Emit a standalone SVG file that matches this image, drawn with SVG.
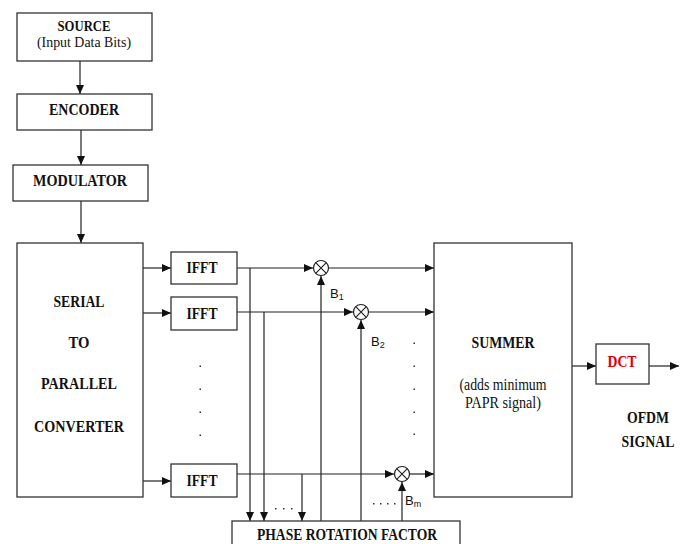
<svg xmlns="http://www.w3.org/2000/svg" width="689" height="544" viewBox="0 0 689 544">
<style>
.box{fill:#fff;stroke:#333;stroke-width:1.3}
.lbl{font-family:"Liberation Serif",serif;font-weight:bold;font-size:17px;fill:#111}
.reg{font-family:"Liberation Serif",serif;font-size:16px;fill:#111}
.sans{font-family:"Liberation Sans",Arial,sans-serif;font-size:13px;fill:#111}
.ln{stroke:#222;stroke-width:1.2;fill:none}
.dot{fill:#333}
</style>
<defs>
<marker id="ah" markerWidth="10" markerHeight="8" refX="9" refY="4" orient="auto" markerUnits="userSpaceOnUse">
<path d="M0,0 L9,4 L0,8 Z" fill="#111"/>
</marker>
</defs>
<rect width="689" height="544" fill="#fff"/>

<g id="connectors">
<line class="ln" x1="80" y1="61" x2="80" y2="94" marker-end="url(#ah)"/>
<line class="ln" x1="81" y1="130" x2="81" y2="165" marker-end="url(#ah)"/>
<line class="ln" x1="81" y1="201" x2="81" y2="243" marker-end="url(#ah)"/>
<line class="ln" x1="143" y1="268" x2="171" y2="268" marker-end="url(#ah)"/>
<line class="ln" x1="143" y1="313" x2="171" y2="313" marker-end="url(#ah)"/>
<line class="ln" x1="143" y1="481" x2="171" y2="481" marker-end="url(#ah)"/>
<line class="ln" x1="237" y1="268" x2="313" y2="268" marker-end="url(#ah)"/>
<line class="ln" x1="329" y1="268" x2="434" y2="268" marker-end="url(#ah)"/>
<line class="ln" x1="237" y1="312" x2="353" y2="312" marker-end="url(#ah)"/>
<line class="ln" x1="369" y1="312" x2="434" y2="312" marker-end="url(#ah)"/>
<line class="ln" x1="237" y1="474" x2="394" y2="474" marker-end="url(#ah)"/>
<line class="ln" x1="410" y1="474" x2="434" y2="474" marker-end="url(#ah)"/>
<line class="ln" x1="250" y1="268" x2="250" y2="521" marker-end="url(#ah)"/>
<line class="ln" x1="264" y1="312" x2="264" y2="521" marker-end="url(#ah)"/>
<line class="ln" x1="302" y1="474" x2="302" y2="521" marker-end="url(#ah)"/>
<line class="ln" x1="321" y1="521" x2="321" y2="276" marker-end="url(#ah)"/>
<line class="ln" x1="361" y1="521" x2="361" y2="320" marker-end="url(#ah)"/>
<line class="ln" x1="402" y1="521" x2="402" y2="482" marker-end="url(#ah)"/>
<line class="ln" x1="572" y1="366" x2="596" y2="366" marker-end="url(#ah)"/>
<line class="ln" x1="649" y1="366" x2="679" y2="366" marker-end="url(#ah)"/>
</g>

<g id="source"><rect class="box" x="17" y="13" width="135" height="48"/>
<text class="lbl" x="84" y="31" text-anchor="middle" style="font-size:15.5px" textLength="53" lengthAdjust="spacingAndGlyphs">SOURCE</text>
<text class="reg" x="84" y="47" text-anchor="middle" style="font-size:14px" textLength="94" lengthAdjust="spacingAndGlyphs">(Input Data Bits)</text></g>

<g id="encoder"><rect class="box" x="17" y="94" width="135" height="36"/>
<text class="lbl" x="84" y="115" text-anchor="middle" textLength="70" lengthAdjust="spacingAndGlyphs">ENCODER</text></g>

<g id="modulator"><rect class="box" x="13" y="165" width="135" height="36"/>
<text class="lbl" x="80" y="186" text-anchor="middle" textLength="94" lengthAdjust="spacingAndGlyphs">MODULATOR</text></g>

<g id="serial"><rect class="box" x="17" y="243" width="126" height="254"/>
<text class="lbl" x="79" y="307" text-anchor="middle" textLength="51" lengthAdjust="spacingAndGlyphs">SERIAL</text>
<text class="lbl" x="79" y="348" text-anchor="middle" textLength="21" lengthAdjust="spacingAndGlyphs">TO</text>
<text class="lbl" x="79" y="389" text-anchor="middle" textLength="76" lengthAdjust="spacingAndGlyphs">PARALLEL</text>
<text class="lbl" x="79" y="432" text-anchor="middle" textLength="90" lengthAdjust="spacingAndGlyphs">CONVERTER</text></g>

<g id="ifft1"><rect class="box" x="171" y="252" width="66" height="32"/>
<text class="lbl" x="202" y="273" text-anchor="middle" textLength="31" lengthAdjust="spacingAndGlyphs">IFFT</text></g>
<g id="ifft2"><rect class="box" x="171" y="297" width="66" height="33"/>
<text class="lbl" x="202" y="319" text-anchor="middle" textLength="31" lengthAdjust="spacingAndGlyphs">IFFT</text></g>
<g id="ifft3"><rect class="box" x="171" y="464" width="66" height="33"/>
<text class="lbl" x="202" y="486" text-anchor="middle" textLength="31" lengthAdjust="spacingAndGlyphs">IFFT</text></g>

<g id="dots-left">
<rect class="dot" x="199.5" y="365.5" width="1.5" height="1.5"/>
<rect class="dot" x="199.5" y="388.5" width="1.5" height="1.5"/>
<rect class="dot" x="199.5" y="411.5" width="1.5" height="1.5"/>
<rect class="dot" x="199.5" y="434.5" width="1.5" height="1.5"/>
</g>
<g id="dots-right">
<rect class="dot" x="413.5" y="342.5" width="1.5" height="1.5"/>
<rect class="dot" x="413.5" y="365.5" width="1.5" height="1.5"/>
<rect class="dot" x="413.5" y="388.5" width="1.5" height="1.5"/>
<rect class="dot" x="413.5" y="411.5" width="1.5" height="1.5"/>
<rect class="dot" x="413.5" y="433.5" width="1.5" height="1.5"/>
</g>
<g id="dots-bottom">
<rect class="dot" x="275" y="508" width="1.5" height="1.5"/>
<rect class="dot" x="283" y="508" width="1.5" height="1.5"/>
<rect class="dot" x="291" y="508" width="1.5" height="1.5"/>
<rect class="dot" x="373" y="503" width="1.5" height="1.5"/>
<rect class="dot" x="380" y="503" width="1.5" height="1.5"/>
<rect class="dot" x="387" y="503" width="1.5" height="1.5"/>
<rect class="dot" x="394" y="503" width="1.5" height="1.5"/>
</g>

<g id="mult1"><circle class="ln" cx="321" cy="268" r="7.5" fill="#fff"/>
<path class="ln" d="M315.7,262.7 L326.3,273.3 M326.3,262.7 L315.7,273.3"/></g>
<g id="mult2"><circle class="ln" cx="361" cy="312" r="7.5" fill="#fff"/>
<path class="ln" d="M355.7,306.7 L366.3,317.3 M366.3,306.7 L355.7,317.3"/></g>
<g id="mult3"><circle class="ln" cx="402" cy="474" r="7.5" fill="#fff"/>
<path class="ln" d="M396.7,468.7 L407.3,479.3 M407.3,468.7 L396.7,479.3"/></g>

<g id="labels-b">
<text class="sans" x="330" y="298">B<tspan font-size="9" dy="2">1</tspan></text>
<text class="sans" x="371" y="346">B<tspan font-size="9" dy="2">2</tspan></text>
<text class="sans" x="405" y="505">B<tspan font-size="9" dy="2">m</tspan></text>
</g>

<g id="summer"><rect class="box" x="434" y="243" width="138" height="254"/>
<text class="lbl" x="503" y="348" text-anchor="middle" textLength="63" lengthAdjust="spacingAndGlyphs">SUMMER</text>
<text class="reg" x="503" y="390" text-anchor="middle" textLength="87" lengthAdjust="spacingAndGlyphs">(adds minimum</text>
<text class="reg" x="503" y="408" text-anchor="middle" textLength="76" lengthAdjust="spacingAndGlyphs">PAPR signal)</text></g>

<g id="dct"><rect class="box" x="596" y="344" width="53" height="40"/>
<text class="lbl" x="622" y="367" text-anchor="middle" style="fill:#e00000" textLength="29" lengthAdjust="spacingAndGlyphs">DCT</text></g>

<g id="ofdm">
<text class="lbl" x="648" y="423" text-anchor="middle" textLength="42" lengthAdjust="spacingAndGlyphs">OFDM</text>
<text class="lbl" x="648" y="447" text-anchor="middle" textLength="53" lengthAdjust="spacingAndGlyphs">SIGNAL</text></g>

<g id="phase"><rect class="box" x="232" y="521" width="228" height="32"/>
<text class="lbl" x="347" y="540" text-anchor="middle" style="font-size:16px" textLength="180" lengthAdjust="spacingAndGlyphs">PHASE ROTATION  FACTOR</text></g>
</svg>
